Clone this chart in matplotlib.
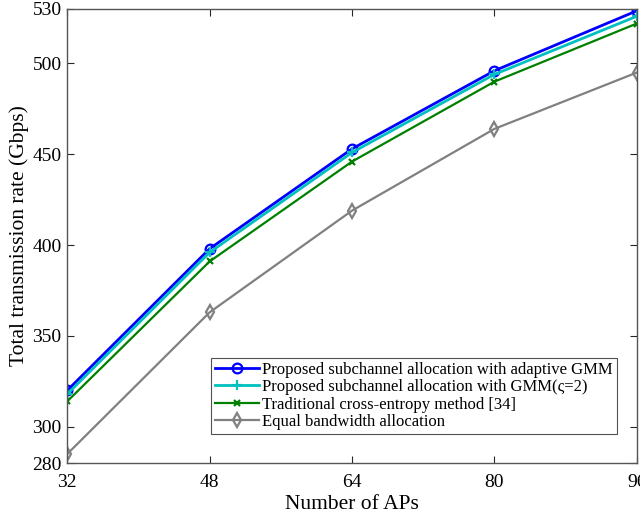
import matplotlib
matplotlib.use("Agg")
import matplotlib.pyplot as plt

plt.rcParams['font.family'] = ['Liberation Serif', 'DejaVu Serif']

aps = [32, 48, 64, 80, 96]
adaptive_gmm = [320, 398, 453, 496, 529]
gmm_fixed = [318, 396, 451, 494, 526]
cross_entropy = [314, 391, 446, 490, 522]
equal_bw = [285, 363, 419, 464, 495]

labels = [
    "Proposed subchannel allocation with adaptive GMM",
    "Proposed subchannel allocation with GMM(\u03c2=2)",
    "Traditional cross-entropy method [34]",
    "Equal bandwidth allocation",
]
yticks = [280, 300, 350, 400, 450, 500, 530]

fig = plt.figure(figsize=(6.4, 5.14), dpi=100)
ax = fig.add_axes([0.105, 0.099, 0.89, 0.8835])

ax.plot(aps, adaptive_gmm, color='#0000ff', lw=2, marker='o', ms=7,
        mfc='none', mew=1.6, label=labels[0])
ax.plot(aps, gmm_fixed, color='#00c0c0', lw=2, marker='+', ms=7,
        mew=1.6, label=labels[1])
ax.plot(aps, cross_entropy, color='#008000', lw=1.6, marker='x', ms=5,
        mew=1.6, label=labels[2])
ax.plot(aps, equal_bw, color='#808080', lw=1.6, marker='d', ms=7,
        mfc='none', mew=1.6, label=labels[3])

ax.set_xlim(32, 96)
ax.set_ylim(280, 530)
ax.set_xticks(aps)
ax.set_yticks(yticks)
ax.tick_params(direction='in', top=True, right=True, labelsize=14,
               length=5, color='#262626')
ax.tick_params(axis='x', pad=8)
ax.tick_params(axis='y', pad=4)
for s in ax.spines.values():
    s.set_color('#555555')
    s.set_linewidth(1.0)

ax.set_xlabel("Number of APs", fontsize=15.5, labelpad=3)
ax.set_ylabel("Total transmission rate (Gbps)", fontsize=15.5, labelpad=2)

leg = ax.legend(loc='lower right', bbox_to_anchor=(0.965, 0.064), fontsize=12,
                frameon=True, fancybox=False, edgecolor='#262626',
                handlelength=2.6, handletextpad=0.2, borderpad=0.25,
                labelspacing=0.08, borderaxespad=0)
leg.get_frame().set_linewidth(0.8)

fig.savefig("out.png", dpi=100)
